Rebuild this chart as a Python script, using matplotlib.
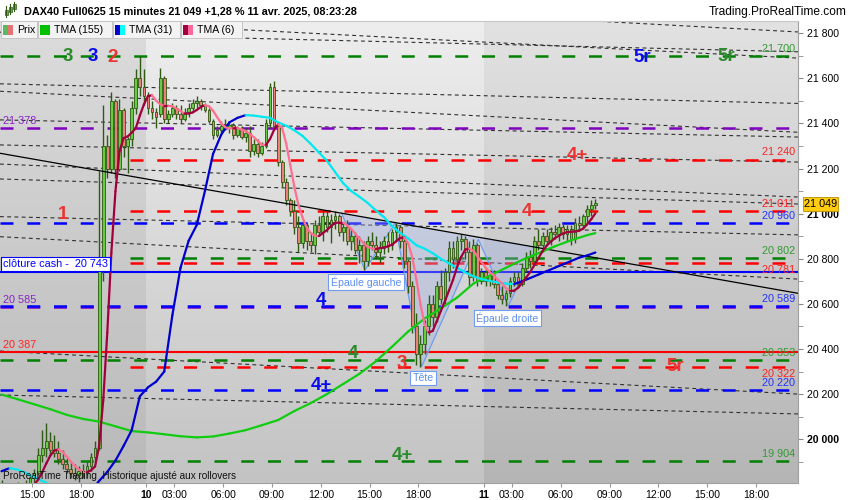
import numpy as np
import pandas as pd
import matplotlib
matplotlib.use("Agg")
import matplotlib.pyplot as plt
from matplotlib.collections import LineCollection
from matplotlib.colors import LinearSegmentedColormap
from matplotlib.patches import Rectangle, Polygon

plt.rcParams['font.family'] = ['Liberation Sans', 'DejaVu Sans']

# ---------------- data ----------------
opens = [19790,19780,19760,19770,19790,19770,19780,19800,19830,
         19850,19930,19960,19990,19950,19940,19910,19890,19870,19850,19840,19860,19850,19880,19920,
         19960,20760,21300,21200,21500,21200,21460,21300,21330,21470,21600,21560,
         21520,21470,21450,21440,21600,21420,21440,21470,21440,21420,21450,21470,21490,21500,21480,
         21460,21410,21350,21370,21390,21380,21395,21350,21380,21340,21360,21280,21310,21270,21300,
         21400,21560,21390,21230,21140,21060,21010,20940,20870,20950,20880,20860,20950,20920,20990,
         20940,20970,20990,20920,20940,20880,20900,20840,20860,20790,20880,20860,20830,20850,20880,
         20860,20920,20940,20880,20790,20680,20500,20380,20420,20500,20600,20540,20680,20620,20740,
         20850,20800,20880,20890,20830,20720,20860,20700,
         20740,20700,20730,20690,20640,20620,20650,20700,20720,20690,20760,20810,20790,20880,20860,
         20900,20880,20920,20910,20940,20910,20930,20890,20960,20950,20990,21020,21040]
highs = [19820,19800,19790,19800,19810,19800,19820,19840,19870,
         19960,20040,20070,20030,20020,19990,19950,19920,19900,19890,19880,19890,19900,19940,19990,
         21190,21480,21350,21540,21510,21510,21470,21340,21500,21640,21700,21640,
         21540,21500,21470,21645,21610,21460,21490,21480,21480,21470,21490,21510,21520,21510,21490,
         21470,21420,21390,21410,21420,21410,21400,21390,21390,21380,21390,21330,21330,21320,21420,
         21580,21590,21400,21240,21160,21070,21060,20990,20970,20960,20920,20970,20990,21010,21010,
         21000,21010,21000,20960,20970,20930,20920,20900,20880,20900,20920,20900,20880,20900,20920,
         20930,20960,20950,20900,20800,20700,20560,20460,20530,20640,20640,20700,20750,20760,20880,
         20880,20900,20910,20900,20880,20890,20870,20760,
         20760,20750,20750,20710,20680,20660,20720,20740,20740,20780,20830,20840,20900,20930,20920,
         20930,20940,20950,20960,20960,20950,20950,20980,20990,21000,21040,21060,21065]
lows = [19760,19740,19730,19750,19760,19740,19770,19780,19810,
        19840,19900,19920,19930,19920,19890,19870,19850,19830,19820,19810,19830,19830,19860,19900,
        19950,20700,21160,21180,21160,21190,21250,21180,21300,21440,21520,21480,
        21440,21420,21380,21430,21400,21400,21430,21420,21400,21410,21430,21450,21470,21460,21450,
        21400,21330,21340,21360,21370,21360,21330,21340,21330,21320,21250,21260,21250,21260,21290,
        21380,21370,21210,21120,21040,20990,20910,20830,20850,20840,20830,20820,20900,20880,20920,
        20870,20930,20900,20880,20860,20840,20820,20780,20750,20770,20840,20800,20780,20820,20830,
        20840,20880,20850,20760,20650,20470,20330,20320,20380,20460,20500,20520,20600,20600,20700,
        20760,20780,20840,20800,20680,20700,20680,20690,
        20680,20680,20670,20620,20600,20590,20630,20680,20670,20680,20740,20760,20780,20840,20830,
        20860,20860,20890,20880,20890,20880,20860,20870,20930,20930,20960,20990,21020]
closes = [19780,19760,19770,19790,19770,19780,19800,19830,19850,
          19930,19960,19990,19950,19940,19910,19890,19870,19850,19840,19860,19850,19880,19920,19960,
          20760,21300,21200,21500,21200,21460,21300,21330,21470,21600,21560,21520,
          21470,21450,21430,21600,21420,21440,21470,21440,21420,21450,21470,21490,21500,21480,21460,
          21410,21350,21370,21390,21380,21395,21350,21380,21340,21360,21280,21310,21270,21300,21400,
          21560,21390,21230,21140,21060,21010,20940,20870,20950,20880,20860,20950,20920,20990,20940,
          20970,20990,20920,20940,20880,20900,20840,20860,20790,20880,20860,20830,20850,20880,20860,
          20920,20940,20880,20790,20680,20500,20380,20420,20500,20600,20540,20680,20620,20740,20850,
          20800,20880,20890,20830,20720,20860,20700,20740,
          20700,20730,20690,20640,20620,20650,20700,20720,20690,20760,20810,20790,20880,20860,20900,
          20880,20920,20910,20940,20910,20930,20890,20960,20950,20990,21020,21040,21049]

# TMA(31) read every 2 bars, TMA(155) read every 4 bars (+ last bar)
tma31_bar = list(range(0, 147, 2))
tma31_val = [19858,19872,19865,19850,19832,19815,19798,19780,19765,19755,19750,19770,19815,19855,
             19905,19970,20040,20190,20230,20255,20300,20550,20760,20880,20950,21100,21265,21350,
             21405,21425,21437,21435,21430,21425,21405,21390,21370,21345,21310,21272,21235,21185,
             21135,21100,21075,21048,21015,20985,20945,20915,20890,20860,20845,20825,20800,20780,
             20760,20740,20722,20710,20702,20695,20690,20688,20700,20715,20730,20745,20760,20775,
             20790,20805,20815,20828]
tma155_bar = list(range(0, 145, 4)) + [146]
tma155_val = [20198,20177,20155,20133,20108,20090,20078,20057,20036,20030,20022,20013,20008,20012,
              20025,20040,20062,20085,20125,20160,20200,20245,20290,20345,20410,20478,20535,20580,
              20628,20690,20725,20760,20795,20825,20855,20882,20905,20914]

# horizontal levels
dashed_levels = [21700, 21378, 21240, 21011, 20960, 20802, 20781, 20585, 20589, 20353, 20322, 20220, 19904]
dashed_colors = ['green', 'purple', 'red', 'red', 'blue', 'green', 'red', 'purple', 'blue', 'green', 'red', 'blue', 'green']
dashed_late = [False, False, True, True, False, True, True, False, False, False, True, False, False]
solid_levels = [20743, 20387]
solid_colors = ['blue', 'red']
right_labels = [21700, 21240, 21011, 20960, 20802, 20781, 20589, 20353, 20322, 20220, 19904]
right_label_colors = ['green', 'red', 'red', 'blue', 'green', 'red', 'blue', 'green', 'red', 'blue', 'green']
right_label_below = [False, False, False, False, False, True, False, False, True, False, False]
left_labels = [21378, 20585, 20387]
left_label_colors = ['purple', 'purple', 'red']
cash_close = 20743
last_price = 21049

# sloped dotted channel lines (time in trading hours from 13:00 Apr 9, price)
chan_h0 = [36.91, 4.83, 0.03, 0.03, 0.03, 0.03, 0.03, 0.03, 0.03, 0.03, 0.03, 0.03, 0.03]
chan_p0 = [21853, 21853, 21805, 21576, 21543, 21416, 21305, 21220, 21154, 20987, 20898, 20391, 20196]
chan_h1 = [49.08] * 13
chan_p1 = [21806, 21690, 21718, 21489, 21361, 21340, 21229, 21074, 21043, 20906, 20710, 20200, 20112]
trend_h = [0.03, 49.08]
trend_p = [21268, 20647]
hs_h = [21.03, 22.46, 24.31, 25.95, 29.43, 31.27, 33.02]
hs_p = [21002, 20750, 20957, 20322, 20886, 20591, 20854]

xtick_pos = [2.0, 5.0, 9.0, 10.75, 13.75, 16.75, 19.75, 22.75, 25.75, 29.75, 31.5, 34.5, 37.5, 40.5, 43.5, 46.5]
xtick_lab = ['15:00', '18:00', '10', '03:00', '06:00', '09:00', '12:00', '15:00', '18:00', '11',
             '03:00', '06:00', '09:00', '12:00', '15:00', '18:00']
day_bounds = [9.0, 29.75]

# ---------------- helpers (layout only) ----------------
W, Hh = 850, 500
def H(px):
    return (px + 0.5) / 16.27
def P(py):
    return 21800 - (py - 33.3) * 4.4346
def fx(px):
    return px / W
def fy(py):
    return 1 - py / Hh

LC = {'green': '#008000', 'red': '#ff0000', 'blue': '#0000ff', 'purple': '#7f00c0'}
TC = {'green': '#339933', 'red': '#ff2222', 'blue': '#2233ff', 'purple': '#8822cc'}
BIG = {'green': '#2b8a2b', 'blue': '#0a0aee', 'red': '#ee3333'}

fig = plt.figure(figsize=(8.5, 5), dpi=100)
fig.patch.set_facecolor('white')
ax = fig.add_axes([0, 17 / Hh, 798 / W, 462 / Hh])

x0, x1 = H(0), H(798)
y0, y1 = P(483), P(21)

# background gradients per day
grad = np.linspace(0, 1, 256).reshape(-1, 1)
regions = [(x0, day_bounds[0], '#b9b9b9', '#dcdcdc'),
           (day_bounds[0], day_bounds[1], '#c3c3c3', '#eeeeee'),
           (day_bounds[1], x1, '#b5b5b5', '#e2e2e2')]
for a, b, cb, ct in regions:
    cm = LinearSegmentedColormap.from_list('g', [cb, ct])
    ax.imshow(grad, extent=[a, b, y0, y1], aspect='auto', cmap=cm, origin='lower', zorder=0)

# dotted channel lines
for a, pa, b, pb in zip(chan_h0, chan_p0, chan_h1, chan_p1):
    ax.plot([a, b], [pa, pb], color='#303030', lw=0.8, dashes=(3.5, 3.0), zorder=1)

# level lines
for v, c, late in zip(dashed_levels, dashed_colors, dashed_late):
    start = H(130) if late else x0
    ax.plot([start, x1], [v, v], color=LC[c], lw=1.8, dashes=(5.2, 5.5), zorder=2)
for v, c in zip(solid_levels, solid_colors):
    ax.plot([x0, x1], [v, v], color=LC[c], lw=1.5, zorder=2)

# head and shoulders pattern
ax.add_patch(Polygon(list(zip(hs_h, hs_p)), closed=True, facecolor='#9fb0e6', alpha=0.35,
                     edgecolor='none', zorder=2.3))
ax.plot(hs_h, hs_p, color='#6f9cf0', lw=0.9, zorder=2.4)

# candles
o = np.array(opens, float); h = np.array(highs, float)
l = np.array(lows, float); c = np.array(closes, float)
n = len(c)
xb = np.arange(n) * 0.25 + 0.125
up = c >= o
edge = '#2f5a14'
ax.vlines(xb, l, h, color=edge, lw=1.0, zorder=3)
ax.bar(xb, np.maximum(np.abs(c - o), 4), bottom=np.minimum(o, c), width=0.17,
       color=np.where(up, '#66cc44', '#e9837a'), edgecolor=edge, linewidth=0.6, zorder=3.1)

# trend line
ax.plot(trend_h, trend_p, color='black', lw=0.9, zorder=3.5)

def colored_line(xs, ys, up_col, dn_col, lw, z):
    xs = np.asarray(xs, float); ys = np.asarray(ys, float)
    pts = np.column_stack([xs, ys])
    segs = np.stack([pts[:-1], pts[1:]], axis=1)
    cols = [up_col if ys[k + 1] >= ys[k] else dn_col for k in range(len(ys) - 1)]
    ax.add_collection(LineCollection(segs, colors=cols, linewidths=lw, zorder=z, capstyle='round'))

colored_line(np.array(tma155_bar) * 0.25 + 0.125, tma155_val, '#11cc11', '#11cc11', 1.6, 4)
colored_line(np.array(tma31_bar) * 0.25 + 0.125, tma31_val, '#0000cc', '#00e8f0', 1.6, 4.1)
tma6 = pd.Series(c).rolling(3, min_periods=1).mean().rolling(4, min_periods=1).mean().values
colored_line(xb, tma6, '#a0003c', '#ff7090', 1.6, 4.2)

# level labels
for v, col, below in zip(right_labels, right_label_colors, right_label_below):
    ax.annotate(f"{v:,}".replace(',', ' '), (H(795), v), xytext=(0, -1.5 if below else 1.5),
                textcoords='offset points', ha='right', va='top' if below else 'bottom',
                fontsize=7.8, color=TC[col], zorder=6)
for v, col in zip(left_labels, left_label_colors):
    ax.annotate(f"{v:,}".replace(',', ' '), (H(3), v), xytext=(0, 1.5), textcoords='offset points',
                ha='left', va='bottom', fontsize=7.8, color=TC[col], zorder=6)
ax.text(H(3), P(264), "clôture cash -  " + f"{cash_close:,}".replace(',', ' '), fontsize=7.8,
        color='#0000ff', ha='left', va='center', zorder=7,
        bbox=dict(boxstyle='square,pad=0.18', fc='white', ec='#0000ff', lw=0.8))

# big wave labels
big = [('3', 'green', 67.5, 56.5), ('3', 'blue', 92.8, 56.5), ('2', 'red', 112.5, 58),
       ('5r', 'blue', 642, 57.5), ('5r', 'green', 726, 56.5), ('4+', 'red', 577, 155.5),
       ('1', 'red', 63, 214.5), ('4', 'red', 527, 211.7), ('4', 'blue', 321, 300.5),
       ('4', 'green', 353, 353.5), ('3', 'red', 402, 363.5), ('4+', 'blue', 321, 386),
       ('5r', 'red', 675.5, 366.5), ('4+', 'green', 402, 455)]
for t, col, px, py in big:
    ax.text(H(px), P(py), t, fontsize=13.5, fontweight='bold', color=BIG[col],
            ha='center', va='center', zorder=6)

for t, px, py in [('Épaule gauche', 366, 282), ('Épaule droite', 507.5, 318), ('Tête', 423, 378)]:
    ax.text(H(px), P(py), t, fontsize=7.6, color='#5b8ef0', ha='center', va='center', zorder=7,
            bbox=dict(boxstyle='square,pad=0.22', fc='white', ec='#6f9cf0', lw=0.8))

ax.text(H(3), P(476), 'ProRealTime Trading  Historique ajusté aux rollovers', fontsize=7.2,
        color='#111111', ha='left', va='center', zorder=7)

# axes
ax.set_xlim(x0, x1)
ax.set_ylim(y0, y1)
ax.yaxis.tick_right()
major = np.arange(20000, 21801, 200)
ax.set_yticks(major)
ax.set_yticks(np.arange(19900, 21801, 100), minor=True)
ax.set_yticklabels([f"{v:,}".replace(',', ' ') for v in major])
for t in ax.get_yticklabels():
    if t.get_text() in ('21 000', '20 000'):
        t.set_fontweight('bold')
        t.set_fontsize(8.6)
ax.tick_params(axis='y', which='both', direction='out', length=3.5, color='#888888',
               labelsize=7.6, pad=3, labelcolor='black')
ax.set_xticks(xtick_pos)
ax.set_xticklabels(xtick_lab)
for t in ax.get_xticklabels():
    if t.get_text() in ('10', '11'):
        t.set_fontweight('bold')
        t.set_fontsize(8.6)
ax.tick_params(axis='x', direction='out', length=3, color='#999999', labelsize=7.5, pad=2)
ax.spines['left'].set_visible(False)
ax.spines['top'].set_color('#c8c8c8')
for s in ('right', 'bottom'):
    ax.spines[s].set_color('#a0a0a0')
    ax.spines[s].set_linewidth(0.8)

# last price tag on right axis
fig.patches.append(Rectangle((fx(803), fy(211)), 35 / W, 14 / Hh, transform=fig.transFigure,
                             facecolor='#ffcc11', edgecolor='#b89000', lw=0.6, zorder=5))
fig.text(fx(820.5), fy(204), f"{last_price:,}".replace(',', ' '), fontsize=7.8,
         ha='center', va='center', zorder=6)

# title bar
fig.text(fx(24), fy(11), 'DAX40 Full0625 15 minutes 21 049 +1,28 % 11 avr. 2025, 08:23:28',
         fontsize=7.8, fontweight='bold', va='center', ha='left')
fig.text(fx(847), fy(12), 'Trading.ProRealTime.com', fontsize=8.6, va='center', ha='right')
for bx, by0, by1, bb0, bb1 in [(6, 6, 17, 10, 15), (10, 4, 14, 7, 12), (14, 2, 11, 4, 9)]:
    fig.lines.append(plt.Line2D([fx(bx), fx(bx)], [fy(by1), fy(by0)], transform=fig.transFigure,
                                color='#2f5a14', lw=0.8))
    fig.patches.append(Rectangle((fx(bx - 1.5), fy(bb1)), 3 / W, (bb1 - bb0) / Hh,
                                 transform=fig.transFigure, facecolor='#55bb33', edgecolor='#2f5a14', lw=0.5))

# legend row
legend = [(1, 37, 'Prix', '#5cb85c', '#e57373'),
          (38, 112, 'TMA (155)', '#00c000', '#00c000'),
          (113, 180, 'TMA (31)', '#0000cc', '#00ffff'),
          (181, 242, 'TMA (6)', '#a00040', '#ff6699')]
for a, b, txt, c1, c2 in legend:
    fig.patches.append(Rectangle((fx(a), fy(38)), (b - a) / W, 17 / Hh, transform=fig.transFigure,
                                 facecolor='#f3f3f3', edgecolor='#c4c4c4', lw=0.7, zorder=5))
    fig.patches.append(Rectangle((fx(a + 2), fy(35)), 5 / W, 10 / Hh, transform=fig.transFigure,
                                 facecolor=c1, edgecolor='none', zorder=6))
    fig.patches.append(Rectangle((fx(a + 7), fy(35)), 5 / W, 10 / Hh, transform=fig.transFigure,
                                 facecolor=c2, edgecolor='none', zorder=6))
    fig.text(fx(a + 16), fy(30), txt, fontsize=7.6, va='center', ha='left', zorder=7)

fig.savefig('out.png', dpi=100)
